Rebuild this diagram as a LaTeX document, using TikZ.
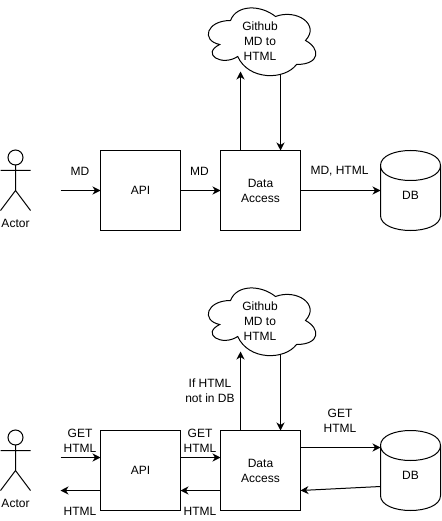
\documentclass[tikz,border=0pt]{standalone}
\usepackage{fontspec}
\setmainfont{Liberation Sans}
\usetikzlibrary{arrows.meta}
\tikzset{
  x=1pt,y=-1pt,
  every node/.style={font=\fontsize{12}{15}\selectfont,align=center,inner sep=0pt,outer sep=0pt},
  ln/.style={line width=1pt,draw=black},
  flow/.style={ln,-{Stealth[length=8pt,width=8pt,inset=2.5pt]}},
  boxnode/.style={ln,rectangle,minimum width=80pt,minimum height=80pt},
  headnode/.style={ln,circle,minimum size=15pt},
  lbl/.style={}
}
\newcommand{\cloudpath}{%
  (30,20) .. controls (6,20) and (0,40) .. (19.2,44)
  .. controls (0,53.6) and (21.6,66.4) .. (37.2,56)
  .. controls (48,80) and (84,80) .. (96,64)
  .. controls (120,64) and (120,48) .. (105,40)
  .. controls (120,24) and (96,8) .. (75,16)
  .. controls (60,4) and (36,4) .. (30,20) -- cycle}
\newcommand{\dbpath}{%
  (0,15) .. controls (0,-5) and (60,-5) .. (60,15) -- (60,65)
  .. controls (60,85) and (0,85) .. (0,65) -- cycle
  (0,15) .. controls (0,35) and (60,35) .. (60,15)}
\begin{document}
\begin{tikzpicture}
\useasboundingbox[fill=white] (0,0) rectangle (441,521);

% ---------- upper diagram ----------
\node[headnode] (h1) at (15.5,157.5) {};
\coordinate (b1) at (15.5,190.5);
\coordinate (al1) at (0.5,170.5);
\coordinate (ar1) at (30.5,170.5);
\coordinate (ll1) at (0.5,210.5);
\coordinate (lr1) at (30.5,210.5);
\draw[ln] (h1.south) -- (b1) (al1) -- (ar1) (ll1) -- (b1) -- (lr1);
\node (actor1) at (15.5,223.5) {Actor};
\node[boxnode] (api1) at (140.5,190.5) {API};
\node[boxnode] (da1) at (260.5,190.5) {Data\\Access};
\draw[ln,shift={(380.5,150.5)}] \dbpath;
\node (db1) at (410.5,195.5) {DB};
\draw[ln,shift={(200.5,0.5)}] \cloudpath;
\node (cl1) at (260,41) {Github\\MD to\\HTML};
\coordinate (start1) at (60.5,190.5);
\coordinate (dbl1) at (380.5,190.5);
\coordinate (cu1) at (240.5,71.5);
\coordinate (cd1) at (280.5,75);
\draw[flow] (start1) -- (api1.west);
\draw[flow] (api1.east) -- (da1.west);
\draw[flow] (da1.east) -- (dbl1);
\draw[flow] (da1.north -| cu1) -- (cu1);
\draw[flow] (cd1) -- (da1.north -| cd1);
\node (m1) at (80,171) {MD};
\node (m2) at (199.5,171) {MD};
\node (m3) at (339.5,171) {MD, HTML};

% ---------- lower diagram ----------
\node[headnode] (h2) at (15.5,437.5) {};
\coordinate (b2) at (15.5,470.5);
\coordinate (al2) at (0.5,450.5);
\coordinate (ar2) at (30.5,450.5);
\coordinate (ll2) at (0.5,490.5);
\coordinate (lr2) at (30.5,490.5);
\draw[ln] (h2.south) -- (b2) (al2) -- (ar2) (ll2) -- (b2) -- (lr2);
\node (actor2) at (15.5,503.5) {Actor};
\node[boxnode] (api2) at (140.5,470.5) {API};
\node[boxnode] (da2) at (260.5,470.5) {Data\\Access};
\draw[ln,shift={(380.5,430.5)}] \dbpath;
\node (db2) at (410.5,475.5) {DB};
\draw[ln,shift={(200.5,280.5)}] \cloudpath;
\node (cl2) at (260,321) {Github\\MD to\\HTML};
\coordinate (s2) at (60.5,457.5);
\coordinate (e2) at (60.5,490.5);
\coordinate (dbin) at (380.5,447.5);
\coordinate (dbout) at (380.5,486.5);
\coordinate (daout) at (300.5,490.5);
\coordinate (cu2) at (240.5,351.5);
\coordinate (cd2) at (280.5,355);
\draw[flow] (s2) -- (api2.west |- s2);
\draw[flow] (api2.east |- s2) -- (da2.west |- s2);
\draw[flow] (da2.east |- dbin) -- (dbin);
\draw[flow] (dbout) -- (daout);
\draw[flow] (da2.west |- e2) -- (api2.east |- e2);
\draw[flow] (api2.west |- e2) -- (e2);
\draw[flow] (da2.north -| cu2) -- (cu2);
\draw[flow] (cd2) -- (da2.north -| cd2);
\node (g1) at (80,440.5) {GET\\HTML};
\node (g2) at (200,440.5) {GET\\HTML};
\node (g3) at (340,420.5) {GET\\HTML};
\node (r1) at (80,511) {HTML};
\node (r2) at (200,511) {HTML};
\node (cond) at (210,390.5) {If HTML\\not in DB};
\end{tikzpicture}
\end{document}
